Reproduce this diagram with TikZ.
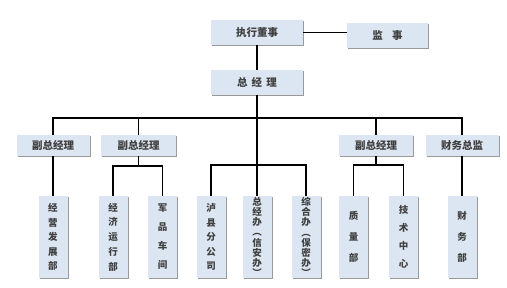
\documentclass[tikz,border=0pt]{standalone}
\usepackage{fontspec}
\setmainfont{Noto Sans CJK SC}
\usepackage{tikz}
\usetikzlibrary{shadows}
\usepackage{xcolor}
\definecolor{orgFill}{HTML}{DCE6F2}
\definecolor{orgText}{HTML}{404040}
\definecolor{orgShade}{HTML}{9A9A9A}

\begin{document}
\begin{tikzpicture}[x=1pt,y=-1pt]
\tikzstyle{hbox}=[fill=orgFill,text=orgText,inner sep=0pt,minimum height=21pt,font=\bfseries\fontsize{10.5}{12}\selectfont,drop shadow={shadow xshift=1.2pt,shadow yshift=-1.2pt,fill=orgShade,opacity=1}]
\tikzstyle{vbox}=[hbox,minimum width=29pt,minimum height=82pt,align=center,font=\bfseries\fontsize{9.5}{#1}\selectfont]
\tikzstyle{link}=[line width=1.5pt,black]
\useasboundingbox (0,0) rectangle (507,288);
% top
\node[hbox,minimum width=92pt,minimum height=25pt] (zxds) at (257,32.5) {执行董事};
\node[hbox,minimum width=81pt,minimum height=25pt] (js) at (387.5,35.5) {监\hspace{0.9em}事};
\node[hbox,minimum width=92pt,minimum height=25pt] (zjl) at (257,82.5) {总\hspace{0.4em}经\hspace{0.4em}理};
% second row
\node[hbox,minimum width=73pt] (fz1) at (53,145.5) {副总经理};
\node[hbox,minimum width=75pt] (fz2) at (138.5,145.5) {副总经理};
\node[hbox,minimum width=74pt] (fz3) at (376,145.5) {副总经理};
\node[hbox,minimum width=73pt] (cwzj) at (462,145.5) {财务总监};
% bottom row
\node[vbox=14.5] (jyfz) at (53,237) {经\\营\\发\\展\\部};
\node[vbox=14.7] (jjyx) at (113,237) {经\\济\\运\\行\\部};
\node[vbox=19] (jpcj) at (162.5,237) {军\\品\\车\\间};
\node[vbox=14.5] (lxfgs) at (211,237) {泸\\县\\分\\公\\司};
\node[vbox=10.2] (zjb) at (257,237) {总\\经\\办\\︵\\信\\安\\办\\︶};
\node[vbox=10.2] (zhb) at (306,237) {综\\合\\办\\︵\\保\\密\\办\\︶};
\node[vbox=21] (zlb) at (353.5,237) {质\\量\\部};
\node[vbox=18] (jszx) at (403.5,237) {技\\术\\中\\心};
\node[vbox=21] (cwb) at (462,237) {财\\务\\部};
\coordinate (bus) at (257,118);
\coordinate (b2) at (138.5,166);
\coordinate (b3) at (257,165);
\coordinate (b4) at (376,165);
\draw[link] (zxds) -- (js.west |- zxds);
\draw[link] (zxds) -- (zjl);
\draw[link] (zjl) -- (zjb);
\draw[link] (fz1) |- (bus) -| (cwzj);
\foreach \x in {fz2,fz3}{\draw[link] (\x.north) -- (\x.north |- bus);}
\foreach \x/\y in {fz1/jyfz,cwzj/cwb}{\draw[link] (\x) -- (\y);}
\foreach \x/\y/\z in {jjyx/b2/jpcj,lxfgs/b3/zhb,zlb/b4/jszx}{\draw[link] (\x) |- (\y) -| (\z);}
\foreach \x/\y in {fz2/b2,fz3/b4}{\draw[link] (\x) -- (\y);}
\end{tikzpicture}
\end{document}
